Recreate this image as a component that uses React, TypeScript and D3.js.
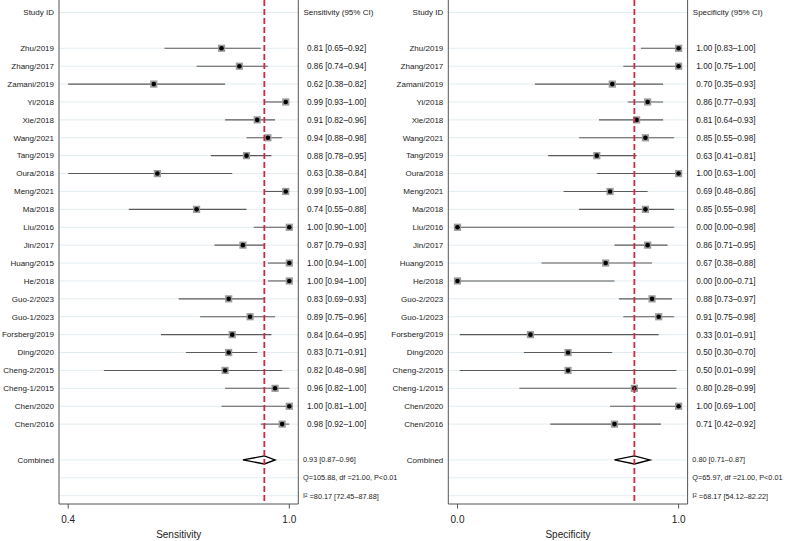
import React from "react";
import * as d3 from "d3";

const studies = [
  "Zhu/2019", "Zhang/2017", "Zamani/2019", "Yi/2018", "Xie/2018", "Wang/2021",
  "Tang/2019", "Oura/2018", "Meng/2021", "Ma/2018", "Liu/2016", "Jin/2017",
  "Huang/2015", "He/2018", "Guo-2/2023", "Guo-1/2023", "Forsberg/2019",
  "Ding/2020", "Cheng-2/2015", "Cheng-1/2015", "Chen/2020", "Chen/2016",
];

const sensEst = [0.81, 0.86, 0.62, 0.99, 0.91, 0.94, 0.88, 0.63, 0.99, 0.74, 1.0, 0.87, 1.0, 1.0, 0.83, 0.89, 0.84, 0.83, 0.82, 0.96, 1.0, 0.98];
const sensLo = [0.65, 0.74, 0.38, 0.93, 0.82, 0.88, 0.78, 0.38, 0.93, 0.55, 0.9, 0.79, 0.94, 0.94, 0.69, 0.75, 0.64, 0.71, 0.48, 0.82, 0.81, 0.92];
const sensHi = [0.92, 0.94, 0.82, 1.0, 0.96, 0.98, 0.95, 0.84, 1.0, 0.88, 1.0, 0.93, 1.0, 1.0, 0.93, 0.96, 0.95, 0.91, 0.98, 1.0, 1.0, 1.0];

const specEst = [1.0, 1.0, 0.7, 0.86, 0.81, 0.85, 0.63, 1.0, 0.69, 0.85, 0.0, 0.86, 0.67, 0.0, 0.88, 0.91, 0.33, 0.5, 0.5, 0.8, 1.0, 0.71];
const specLo = [0.83, 0.75, 0.35, 0.77, 0.64, 0.55, 0.41, 0.63, 0.48, 0.55, 0.0, 0.71, 0.38, 0.0, 0.73, 0.75, 0.01, 0.3, 0.01, 0.28, 0.69, 0.42];
const specHi = [1.0, 1.0, 0.93, 0.93, 0.93, 0.98, 0.81, 1.0, 0.86, 0.98, 0.98, 0.95, 0.88, 0.71, 0.97, 0.98, 0.91, 0.7, 0.99, 0.99, 1.0, 0.92];

const sensPooled = [0.93, 0.87, 0.96];
const specPooled = [0.8, 0.71, 0.87];
const sensHet = { q: "105.88", df: "21.00", p: "P<0.01", i2: "80.17", i2lo: "72.45", i2hi: "87.88" };
const specHet = { q: "65.97", df: "21.00", p: "P<0.01", i2: "68.17", i2lo: "54.12", i2hi: "82.22" };

const FONT = "'Liberation Sans', Arial, Helvetica, sans-serif";
const f2 = d3.format(".2f");

type PanelProps = {
  x0: number;
  est: number[];
  lo: number[];
  hi: number[];
  pooled: number[];
  het: typeof sensHet;
  title: string;
  header: string;
};

const rowY = d3.scaleLinear().domain([0, 27]).range([12.5, 495.7]);
const BOX_BOTTOM = 504;

function Panel({ x0, est, lo, hi, pooled, het, title, header }: PanelProps) {
  const vmin = d3.min(lo) as number;
  const vmax = d3.max(hi) as number;
  const boxL = x0 + 59;
  const boxR = x0 + 298.3;
  const x = d3.scaleLinear().domain([vmin, vmax]).range([boxL + 9.2, boxR - 9]);
  const ticks = [vmin, vmax];
  const fmtTick = d3.format(".1f");
  const labelX = x0 + 54;
  const valX = x0 + 307;
  const sumX = x0 + 303;
  const gridRows = [0, ...studies.map((_, i) => i + 2), 25, 26, 27];
  const cy = rowY(25);
  const [pe, pl, ph] = pooled;
  const diamond = `M${x(pl)},${cy} L${x(pe)},${cy - 4} L${x(ph)},${cy} L${x(pe)},${cy + 4} Z`;
  return (
    <g fontFamily={FONT} fill="#222">
      {gridRows.map((r) => (
        <line key={"g" + r} x1={boxL} x2={boxR} y1={rowY(r)} y2={rowY(r)} stroke="#e3edf1" strokeWidth={1} />
      ))}
      <text x={labelX} y={rowY(0)} dy="0.35em" textAnchor="end" fontSize={8}>Study ID</text>
      <text x={x0 + 303.5} y={rowY(0)} dy="0.35em" fontSize={8}>{header}</text>
      {studies.map((s, i) => {
        const y = rowY(i + 2);
        return (
          <g key={s}>
            <text x={labelX} y={y} dy="0.35em" textAnchor="end" fontSize={8}>{s}</text>
            <line x1={x(lo[i])} x2={x(hi[i])} y1={y} y2={y} stroke="#5a5a5a" strokeWidth={1.1} />
            <rect x={x(est[i]) - 3.6} y={y - 3.6} width={7.2} height={7.2} fill="#9a9a9a" />
            <circle cx={x(est[i])} cy={y} r={2.3} fill="#000" />
            <text x={valX} y={y} dy="0.35em" fontSize={8.2}>
              {`${f2(est[i])} [${f2(lo[i])}–${f2(hi[i])}]`}
            </text>
          </g>
        );
      })}
      <text x={labelX} y={cy} dy="0.35em" textAnchor="end" fontSize={8}>Combined</text>
      <path d={diamond} fill="#fff" stroke="#000" strokeWidth={1.4} />
      <text x={sumX} y={cy} dy="0.35em" fontSize={7.3}>{`${f2(pe)} [${f2(pl)}–${f2(ph)}]`}</text>
      <text x={sumX} y={rowY(26)} dy="0.35em" fontSize={7.3}>{`Q=${het.q}, df =${het.df}, ${het.p}`}</text>
      <text x={sumX} y={rowY(27)} dy="0.35em" fontSize={7.3}>
        I<tspan fontSize={4.5} dy="-0.25em">2</tspan>
        <tspan dy="0.25em">{` =${het.i2} [${het.i2lo}–${het.i2hi}]`}</tspan>
      </text>
      <line x1={x(pe)} x2={x(pe)} y1={0} y2={BOX_BOTTOM} stroke="#cc2a44" strokeWidth={1.8} strokeDasharray="6,3" />
      <line x1={boxL} x2={boxL} y1={0} y2={BOX_BOTTOM} stroke="#555" strokeWidth={1} />
      <line x1={boxR} x2={boxR} y1={0} y2={BOX_BOTTOM} stroke="#555" strokeWidth={1} />
      <line x1={boxL} x2={boxR} y1={BOX_BOTTOM} y2={BOX_BOTTOM} stroke="#555" strokeWidth={1} />
      {ticks.map((t) => (
        <g key={"t" + t}>
          <line x1={x(t)} x2={x(t)} y1={BOX_BOTTOM} y2={BOX_BOTTOM + 4.5} stroke="#555" strokeWidth={1} />
          <text x={x(t)} y={522.5} textAnchor="middle" fontSize={10}>{fmtTick(t)}</text>
        </g>
      ))}
      <text x={(boxL + boxR) / 2} y={537.5} textAnchor="middle" fontSize={10}>{title}</text>
    </g>
  );
}

export default function App() {
  return (
    <svg width={787} height={541} style={{ position: "absolute", left: 0, top: 0, background: "#fff" }}>
      <rect width={787} height={541} fill="#fff" />
      <Panel x0={0} est={sensEst} lo={sensLo} hi={sensHi} pooled={sensPooled} het={sensHet} title="Sensitivity" header="Sensitivity (95% CI)" />
      <Panel x0={389.3} est={specEst} lo={specLo} hi={specHi} pooled={specPooled} het={specHet} title="Specificity" header="Specificity (95% CI)" />
    </svg>
  );
}
